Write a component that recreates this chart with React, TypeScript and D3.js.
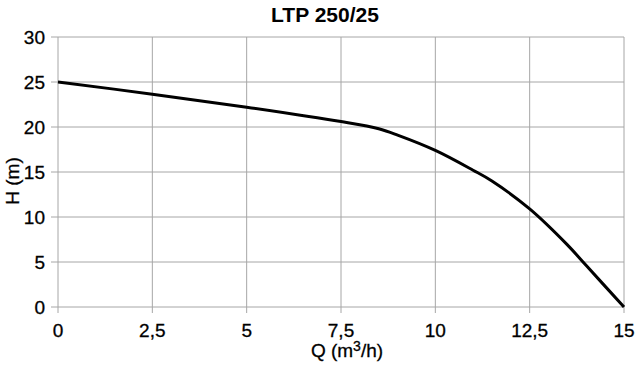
import * as d3 from 'd3'
import React, { useEffect, useRef } from 'react'

// pump curve
const flow = [0, 2.5, 5, 7.5, 8.5, 9, 10, 11, 11.5, 12.5, 13.5, 14, 15]
const head = [25, 23.65, 22.2, 20.6, 19.8, 19.1, 17.4, 15.2, 14.0, 10.9, 6.9, 4.6, 0]
const xTicks = [0, 2.5, 5, 7.5, 10, 12.5, 15]
const yTicks = [0, 5, 10, 15, 20, 25, 30]

const App = () => {
  const svgRef = useRef<SVGSVGElement | null>(null)

  const width = 640
  const height = 366
  const margin = { top: 37, right: 16, bottom: 59, left: 58 }
  const innerWidth = width - margin.left - margin.right
  const innerHeight = height - margin.top - margin.bottom

  useEffect(() => {
    if (!svgRef.current) return
    const root = d3.select(svgRef.current)
    root.selectAll('*').remove()
    root.attr('width', width).attr('height', height)

    root.append('rect').attr('width', width).attr('height', height).attr('fill', '#fff')

    const svg = root.append('g').attr('transform', `translate(${margin.left},${margin.top})`)

    const x = d3.scaleLinear().domain([0, 15]).range([0, innerWidth])
    const y = d3.scaleLinear().domain([0, 30]).range([innerHeight, 0])

    const font = 'Liberation Sans, Arial, sans-serif'

    // vertical grid + ticks
    svg
      .append('g')
      .selectAll('line')
      .data(xTicks)
      .enter()
      .append('line')
      .attr('x1', (d) => x(d))
      .attr('x2', (d) => x(d))
      .attr('y1', 0)
      .attr('y2', innerHeight + 6)
      .attr('stroke', '#a6a6a6')
      .attr('stroke-width', 1)

    // horizontal grid + ticks
    svg
      .append('g')
      .selectAll('line')
      .data(yTicks)
      .enter()
      .append('line')
      .attr('x1', -7)
      .attr('x2', innerWidth)
      .attr('y1', (d) => y(d))
      .attr('y2', (d) => y(d))
      .attr('stroke', '#a6a6a6')
      .attr('stroke-width', 1)

    // tick labels
    svg
      .append('g')
      .selectAll('text')
      .data(xTicks)
      .enter()
      .append('text')
      .attr('x', (d) => x(d))
      .attr('y', innerHeight + 30)
      .attr('text-anchor', 'middle')
      .style('font-family', font)
      .style('font-size', '19px')
      .style('stroke', '#000')
      .style('stroke-width', 0.3)
      .text((d) => String(d).replace('.', ','))

    svg
      .append('g')
      .selectAll('text')
      .data(yTicks)
      .enter()
      .append('text')
      .attr('x', -13)
      .attr('y', (d) => y(d) + 7)
      .attr('text-anchor', 'end')
      .style('font-family', font)
      .style('font-size', '19px')
      .style('stroke', '#000')
      .style('stroke-width', 0.3)
      .text((d) => d)

    // curve
    const line = d3
      .line<number>()
      .x((d, i) => x(flow[i]))
      .y((d) => y(d))
      .curve(d3.curveCatmullRom.alpha(0.5))

    svg
      .append('path')
      .datum(head)
      .attr('fill', 'none')
      .attr('stroke', '#000')
      .attr('stroke-width', 3)
      .attr('d', line)

    // title
    root
      .append('text')
      .attr('x', 325)
      .attr('y', 22)
      .attr('text-anchor', 'middle')
      .style('font-family', font)
      .style('font-size', '21px')
      .style('font-weight', 'bold')
      .text('LTP 250/25')

    // axis titles
    const xt = root
      .append('text')
      .attr('x', 347)
      .attr('y', 357)
      .attr('text-anchor', 'middle')
      .style('font-family', font)
      .style('font-size', '19px')
      .style('stroke', '#000')
      .style('stroke-width', 0.3)
    xt.append('tspan').text('Q (m')
    xt.append('tspan').attr('dy', -6).style('font-size', '14px').text('3')
    xt.append('tspan').attr('dy', 6).text('/h)')

    root
      .append('text')
      .attr('transform', `translate(19,181) rotate(-90)`)
      .attr('text-anchor', 'middle')
      .style('font-family', font)
      .style('font-size', '19px')
      .style('stroke', '#000')
      .style('stroke-width', 0.3)
      .text('H (m)')
  }, [])

  return (
    <div style={{ position: 'absolute', left: 0, top: 0, width, height, background: '#fff' }}>
      <svg ref={svgRef} style={{ display: 'block' }}></svg>
    </div>
  )
}

export default App
